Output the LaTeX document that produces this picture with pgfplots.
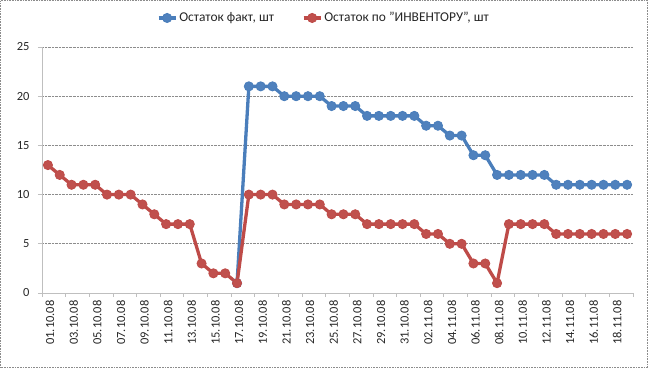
\documentclass[border=0pt]{standalone}
\usepackage{pgfplots}
\pgfplotsset{compat=1.18}
\usepackage{pgfplotstable}
\usepackage{fontspec}
\setmainfont{Carlito}
\definecolor{fblue}{HTML}{4A7EBB}
\definecolor{fbluemk}{HTML}{4F81BD}
\definecolor{fred}{HTML}{BE4B48}
\definecolor{fredmk}{HTML}{C0504D}
\definecolor{axgray}{HTML}{BFBFBF}
\definecolor{gridgray}{HTML}{8C8C8C}

\pgfplotstableread{
i v
16 1
17 21
18 21
19 21
20 20
21 20
22 20
23 20
24 19
25 19
26 19
27 18
28 18
29 18
30 18
31 18
32 17
33 17
34 16
35 16
36 14
37 14
38 12
39 12
40 12
41 12
42 12
43 11
44 11
45 11
46 11
47 11
48 11
49 11
}\fakt

\pgfplotstableread{
i v
0 13
1 12
2 11
3 11
4 11
5 10
6 10
7 10
8 9
9 8
10 7
11 7
12 7
13 3
14 2
15 2
16 1
17 10
18 10
19 10
20 9
21 9
22 9
23 9
24 8
25 8
26 8
27 7
28 7
29 7
30 7
31 7
32 6
33 6
34 5
35 5
36 3
37 3
38 1
39 7
40 7
41 7
42 7
43 6
44 6
45 6
46 6
47 6
48 6
49 6
}\inv

\begin{document}
\begin{tikzpicture}
\useasboundingbox (0,0) rectangle (648bp,368bp);
\draw[gridgray, densely dotted, line width=0.6bp] (0.5bp,0.5bp) rectangle (647.5bp,367.5bp);
\begin{axis}[
  at={(42bp,75bp)}, anchor=south west,
  scale only axis, width=591bp, height=246bp,
  xmin=-0.5, xmax=49.5, ymin=0, ymax=25,
  axis x line*=bottom, axis y line*=left,
  axis line style={axgray, line width=1bp, -},
  xtick={0,2,...,48},
  xticklabels={01.10.08,03.10.08,05.10.08,07.10.08,09.10.08,11.10.08,13.10.08,15.10.08,17.10.08,19.10.08,21.10.08,23.10.08,25.10.08,27.10.08,29.10.08,31.10.08,02.11.08,04.11.08,06.11.08,08.11.08,10.11.08,12.11.08,14.11.08,16.11.08,18.11.08},
  major x tick style={draw=none},
  minor xtick={-0.5,1.5,...,49.5},
  minor x tick style={axgray, line width=0.8bp},
  minor tick length=4bp,
  tick align=outside,
  ytick={0,5,...,25},
  major y tick style={axgray, line width=0.8bp},
  major tick length=4bp,
  ymajorgrids,
  grid style={gridgray, densely dotted, line width=0.6bp},
  /pgf/number format/assume math mode=true,
  tick label style={font=\fontsize{12.5}{14}\selectfont, text=black!85},
  yticklabel style={xshift=-5bp},
  xticklabel style={rotate=90, anchor=east, yshift=-2bp},
  legend style={at={(0.477,1.118)}, anchor=center, draw=none, fill=none,
    legend columns=2, font=\fontsize{13.5}{15}\selectfont, text=black!85,
    /tikz/every even column/.append style={column sep=26bp}},
  legend cell align=left,
  clip=false,
]
\addplot[fblue, line width=3.3bp, mark=*, mark size=4.6bp,
  mark options={fill=fbluemk, draw=fblue, line width=0.8bp}] table[x=i,y=v]{\fakt};
\addlegendentry{Остаток факт, шт}
\addplot[fred, line width=3.3bp, mark=*, mark size=4.6bp,
  mark options={fill=fredmk, draw=fred, line width=0.8bp}] table[x=i,y=v]{\inv};
\addlegendentry{Остаток по "ИНВЕНТОРУ", шт}
\end{axis}
\end{tikzpicture}
\end{document}
